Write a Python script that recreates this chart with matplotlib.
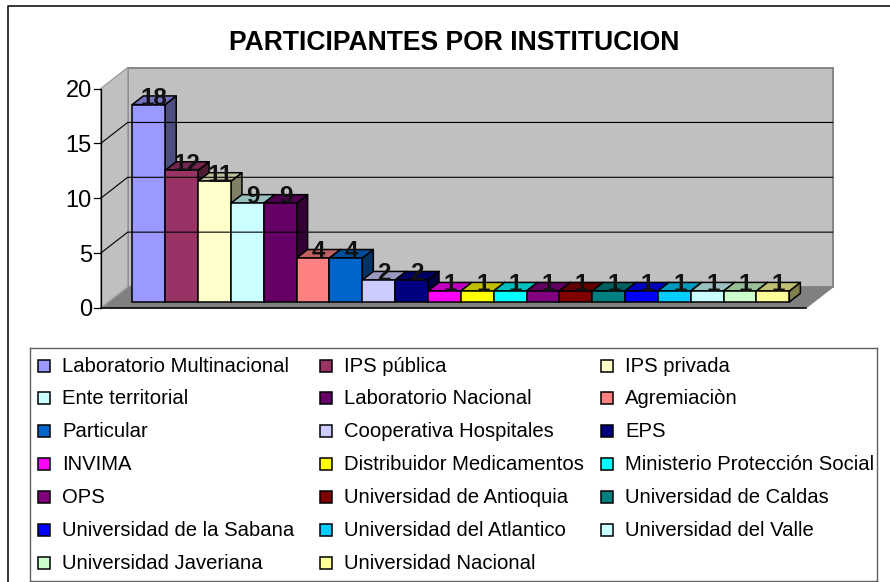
import matplotlib
matplotlib.use("Agg")
import matplotlib.pyplot as plt
from matplotlib.patches import Polygon, Rectangle
from matplotlib.colors import to_rgb

plt.rcParams['font.family'] = ['Liberation Sans', 'DejaVu Sans']

categories = ["Laboratorio Multinacional", "IPS pública", "IPS privada",
              "Ente territorial", "Laboratorio Nacional", "Agremiaciòn",
              "Particular", "Cooperativa Hospitales", "EPS",
              "INVIMA", "Distribuidor Medicamentos", "Ministerio Protección Social",
              "OPS", "Universidad de Antioquia", "Universidad de Caldas",
              "Universidad de la Sabana", "Universidad del Atlantico", "Universidad del Valle",
              "Universidad Javeriana", "Universidad Nacional"]
values = [18, 12, 11, 9, 9, 4, 4, 2, 2, 1, 1, 1, 1, 1, 1, 1, 1, 1, 1, 1]
colors = ["#9999FF", "#993366", "#FFFFCC", "#CCFFFF", "#660066", "#FF8080",
          "#0066CC", "#CCCCFF", "#000080", "#FF00FF", "#FFFF00", "#00FFFF",
          "#800080", "#800000", "#008080", "#0000FF", "#00CCFF", "#CCFFFF",
          "#CCFFCC", "#FFFF99"]
y_ticks = [0, 5, 10, 15, 20]
title = "PARTICIPANTES POR INSTITUCION"

W, H = 890, 582
CAT_PX = 32.85   # width of one bar
VAL_PX = 10.97   # height of one unit
X0_PX = 132.3    # left of first bar
Y0_PX = 302.0    # bar base line

# depth of the 3d box, in category / value units
DX = 27 / CAT_PX
DY = 21 / VAL_PX
BAR_DEPTH = 0.41
FRONT = 6 / 21   # bars sit this far back from the front edge of the floor
X_LEFT = -0.962 + FRONT * DX
X_RIGHT = 20.5 + FRONT * DX


def shade(color, k):
    return tuple(c * k for c in to_rgb(color))


def box_point(x, y, depth):
    # depth 0 is the plane of the bar fronts
    return (x + depth * DX, y + depth * DY)


fig = plt.figure(figsize=(W / 100, H / 100), dpi=100, facecolor="white")
ax = fig.add_axes([0, 0, 1, 1])
ax.set_xlim(-X0_PX / CAT_PX, (W - X0_PX) / CAT_PX)
ax.set_ylim((Y0_PX - H) / VAL_PX, Y0_PX / VAL_PX)
ax.axis("off")

# outer border of the picture (only left and top show)
ax.plot([7.5 / W, 7.5 / W, 1], [0, 1 - 5.5 / H, 1 - 5.5 / H], transform=ax.transAxes,
        color="black", lw=1.1, clip_on=False)

# walls and floor
top = y_ticks[-1]
b = -FRONT
f_l = box_point(X_LEFT, 0, b)
b_l = box_point(X_LEFT, 0, 1 + b)
b_r = box_point(X_RIGHT, 0, 1 + b)
f_r = box_point(X_RIGHT, 0, b)
ax.add_patch(Polygon([f_l, b_l, b_r, f_r], fc="#808080", ec="#808080", lw=1))
ax.add_patch(Polygon([b_l, (b_l[0], b_l[1] + top), (b_r[0], b_r[1] + top), b_r],
                     fc="#C0C0C0", ec="#808080", lw=1.3))
ax.add_patch(Polygon([f_l, b_l, (b_l[0], b_l[1] + top), (f_l[0], f_l[1] + top)],
                     fc="#C0C0C0", ec="#A0A0A0", lw=1))

# gridlines, ticks, tick labels
for t in y_ticks:
    a = (f_l[0], f_l[1] + t)
    c = (b_l[0], b_l[1] + t)
    d = (b_r[0], b_r[1] + t)
    if 0 < t < top:
        ax.plot([a[0], c[0], d[0]], [a[1], c[1], d[1]], color="black", lw=0.8)
    ax.plot([a[0] - 0.19, a[0]], [a[1], a[1]], color="black", lw=0.9)
    ax.text(a[0] - 0.27, a[1], str(t), ha="right", va="center_baseline", fontsize=17)
ax.plot([f_l[0], f_l[0]], [f_l[1], f_l[1] + top], color="black", lw=0.9)
ax.plot([f_l[0], f_r[0]], [f_l[1], f_r[1]], color="black", lw=1.1)

# bars
for i, (v, col) in enumerate(zip(values, colors)):
    ax.add_patch(Polygon([box_point(i + 1, 0, 0), box_point(i + 1, 0, BAR_DEPTH),
                          box_point(i + 1, v, BAR_DEPTH), box_point(i + 1, v, 0)],
                         fc=shade(col, 0.5), ec="black", lw=1.1, joinstyle="round"))
    ax.add_patch(Polygon([box_point(i, v, 0), box_point(i, v, BAR_DEPTH),
                          box_point(i + 1, v, BAR_DEPTH), box_point(i + 1, v, 0)],
                         fc=shade(col, 0.75), ec="black", lw=1.1, joinstyle="round"))
    ax.add_patch(Rectangle((i, 0), 1, v, fc=col, ec="black", lw=1.1))

# value labels
for i, v in enumerate(values):
    x, y = box_point(i + 0.5, v, BAR_DEPTH / 2)
    ax.text(x, v - 0.02, str(v), ha="center", va="baseline", fontsize=17.5,
            fontweight="bold", color="#111111")

ax.text(454 / CAT_PX - X0_PX / CAT_PX, (Y0_PX - 50) / VAL_PX, title, ha="center", va="baseline",
        fontsize=19.1, fontweight="bold")

# legend, filled row by row
COL_PX, ROW_PX = 281.7, 32.85
SW_X, SW_Y = 38.0, 365.5
lax = fig.add_axes([30 / W, 1 - 581 / H, 847 / W, 233 / H])
lax.set_xlim((30 - SW_X) / COL_PX, (877 - SW_X) / COL_PX)
lax.set_ylim((581 - SW_Y) / ROW_PX, (348 - SW_Y) / ROW_PX)
lax.set_xticks([])
lax.set_yticks([])
for s in lax.spines.values():
    s.set_color("#606060")
    s.set_linewidth(1.0)
sw_w, sw_h = 12 / COL_PX, 12 / ROW_PX
for i, (name, col) in enumerate(zip(categories, colors)):
    r, c = divmod(i, 3)
    lax.add_patch(Rectangle((c, r - sw_h / 2), sw_w, sw_h, fc=col, ec="black", lw=1.1))
    lax.text(c + 24 / COL_PX, r + 6 / ROW_PX, name, ha="left", va="baseline", fontsize=14.6)

fig.savefig("out.png", dpi=100)
